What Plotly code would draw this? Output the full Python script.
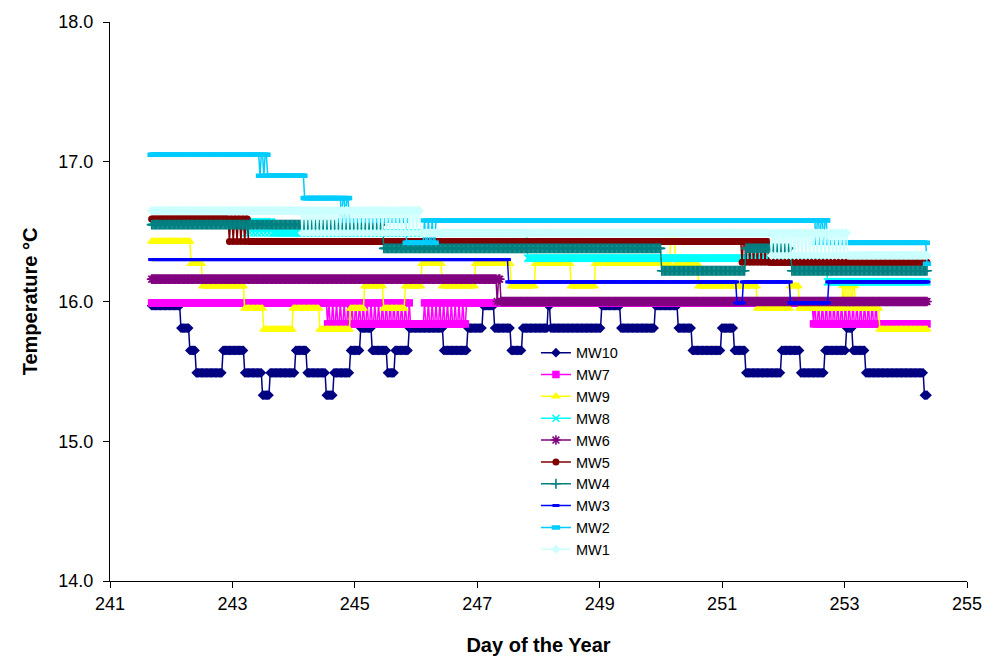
import numpy as np
import plotly.graph_objects as go

# Logger readings: each well is a step record (day of year where the reading
# changes, temperature held from that day on) plus short stretches where the
# sensor toggled between two adjacent levels (start, end, other level).
DAY_START = 241.68
DAY_END = 254.36
SAMPLES_PER_DAY = 48

MW10_T = [241.62, 242.14, 242.29, 242.40, 242.83, 243.19, 243.48, 243.60, 244.02, 244.22,
          244.53, 244.64, 244.92, 245.08, 245.28, 245.52, 245.64, 245.87, 246.45, 246.83,
          247.09, 247.27, 247.55, 247.73, 248.15, 248.20, 249.03, 249.34, 249.90, 250.27,
          250.50, 250.99, 251.20, 251.38, 251.97, 252.27, 252.66, 253.02, 253.13, 253.33,
          254.29]
MW10_V = [15.97, 15.81, 15.65, 15.49, 15.65, 15.49, 15.33, 15.49, 15.65, 15.49,
          15.33, 15.49, 15.65, 15.81, 15.65, 15.49, 15.65, 15.81, 15.65, 15.81,
          15.97, 15.81, 15.65, 15.81, 15.97, 15.81, 15.97, 15.81, 15.97, 15.81,
          15.65, 15.81, 15.65, 15.49, 15.65, 15.49, 15.65, 15.81, 15.65, 15.49,
          15.33]
MW10_FLICKER = []

MW7_T = [241.62, 244.54, 246.83, 252.48]
MW7_V = [15.99, 15.84, 15.99, 15.84]
MW7_FLICKER = [(244.54, 245.93, 15.99), (246.11, 246.83, 15.99), (252.48, 253.54, 15.99)]

MW9_T = [241.62, 242.31, 242.50, 243.20, 243.50, 243.99, 244.43, 244.92, 245.15, 245.47,
         245.82, 246.08, 246.42, 246.96, 247.55, 247.94, 248.53, 248.92, 250.14, 250.24,
         250.60, 251.56, 252.10, 252.25, 252.97, 253.20, 253.57]
MW9_V = [16.43, 16.27, 16.11, 15.95, 15.80, 15.95, 15.80, 15.95, 16.11, 15.95,
         16.11, 16.27, 16.11, 16.27, 16.11, 16.27, 16.11, 16.27, 16.43, 16.27,
         16.11, 15.95, 16.11, 15.95, 16.11, 15.95, 15.80]
MW9_FLICKER = [(252.97, 253.20, 15.95)]

MW8_T = [241.62, 243.66, 247.82, 252.71]
MW8_V = [16.57, 16.49, 16.31, 16.14]
MW8_FLICKER = [(243.20, 243.66, 16.49)]

MW6_T = [241.62, 247.40]
MW6_V = [16.16, 16.00]
MW6_FLICKER = [(247.30, 247.40, 16.00)]

MW5_T = [241.62, 243.25, 251.78]
MW5_V = [16.59, 16.43, 16.28]
MW5_FLICKER = [(242.93, 243.25, 16.43), (251.29, 251.78, 16.28)]

MW4_T = [241.62, 245.46, 250.00, 251.38, 252.12]
MW4_V = [16.55, 16.38, 16.22, 16.38, 16.22]
MW4_FLICKER = []

MW3_T = [241.62, 247.50, 251.24, 251.33, 252.10, 252.74]
MW3_V = [16.30, 16.14, 15.99, 16.14, 15.99, 16.14]
MW3_FLICKER = []

MW2_T = [241.62, 243.56, 244.18, 244.89, 245.83, 246.34, 252.71, 254.34]
MW2_V = [17.05, 16.90, 16.74, 16.58, 16.42, 16.58, 16.42, 16.27]
MW2_FLICKER = [(243.42, 243.56, 16.90), (244.76, 244.89, 16.58),
               (246.11, 246.34, 16.58), (252.51, 252.71, 16.42)]

MW1_T = [241.62, 246.09, 253.05]
MW1_V = [16.65, 16.49, 16.33]
MW1_FLICKER = [(244.10, 246.09, 16.49), (251.78, 253.05, 16.33)]

SERIES = ["MW10", "MW7", "MW9", "MW8", "MW6", "MW5", "MW4", "MW3", "MW2", "MW1"]
COLORS = ["#000080", "#FF00FF", "#FFFF00", "#00FFFF", "#800080",
          "#800000", "#008080", "#0000FF", "#00CCFF", "#CCFFFF"]

DATA = {
    "MW10": (MW10_T, MW10_V, MW10_FLICKER),
    "MW7": (MW7_T, MW7_V, MW7_FLICKER),
    "MW9": (MW9_T, MW9_V, MW9_FLICKER),
    "MW8": (MW8_T, MW8_V, MW8_FLICKER),
    "MW6": (MW6_T, MW6_V, MW6_FLICKER),
    "MW5": (MW5_T, MW5_V, MW5_FLICKER),
    "MW4": (MW4_T, MW4_V, MW4_FLICKER),
    "MW3": (MW3_T, MW3_V, MW3_FLICKER),
    "MW2": (MW2_T, MW2_V, MW2_FLICKER),
    "MW1": (MW1_T, MW1_V, MW1_FLICKER),
}

# marker style per well: symbol, size, outline width
MARKERS = {
    "MW10": ("diamond", 7.5, 0),
    "MW7": ("square", 7.5, 0),
    "MW9": ("triangle-up", 8.5, 0),
    "MW8": ("x-thin-open", 7, 1.6),
    "MW6": ("asterisk-open", 8, 1.6),
    "MW5": ("circle", 7, 0),
    "MW4": ("cross-thin-open", 7, 1.6),
    "MW3": ("line-ew-open", 5, 3),
    "MW2": ("line-ew-open", 6, 4.5),
    "MW1": ("diamond", 7, 0),
}

times = np.arange(DAY_START, DAY_END + 1e-9, 1.0 / SAMPLES_PER_DAY)


def readings(step_t, step_v, flicker):
    t = np.asarray(step_t)
    v = np.asarray(step_v, dtype=float)
    idx = np.clip(np.searchsorted(t, times, side="right") - 1, 0, len(v) - 1)
    vals = v[idx].copy()
    for a, b, other in flicker:
        pos = np.nonzero((times >= a) & (times < b))[0]
        vals[pos[1::3]] = other
    return vals


fig = go.Figure()
for name, color in zip(SERIES, COLORS):
    st, sv, fl = DATA[name]
    sym, size, lw = MARKERS[name]
    fig.add_trace(go.Scatter(
        x=times, y=readings(st, sv, fl), mode="lines+markers", name=name,
        legendgroup=name,
        line=dict(color=color, width=1.5),
        marker=dict(symbol=sym, size=size, color=color,
                    line=dict(color=color, width=lw)),
    ))

FONT = "Liberation Sans, Arial, sans-serif"

fig.update_layout(
    width=997, height=666,
    margin=dict(l=110, r=30, t=19, b=85),
    paper_bgcolor="white", plot_bgcolor="white",
    font=dict(family=FONT, color="black"),
    showlegend=True,
    legend=dict(x=0.497, y=0.437, xanchor="left", yanchor="top",
                bgcolor="rgba(0,0,0,0)", font=dict(size=14.5, family=FONT),
                tracegroupgap=0, itemsizing="trace"),
    xaxis=dict(range=[241, 255], tickvals=[241, 243, 245, 247, 249, 251, 253, 255],
               showline=True, linecolor="black", linewidth=1,
               ticks="outside", ticklen=6, tickcolor="black",
               showgrid=False, zeroline=False, tickfont=dict(size=18),
               title=dict(text="<b>Day of the Year</b>", font=dict(size=20), standoff=25)),
    yaxis=dict(range=[14, 18], tickvals=[14, 15, 16, 17, 18], tickformat=".1f",
               showline=True, linecolor="black", linewidth=1,
               ticks="outside", ticklen=6, tickcolor="black",
               showgrid=False, zeroline=False, tickfont=dict(size=18),
               ticklabelstandoff=6,
               title=dict(text="<b>Temperature °C</b>", font=dict(size=20), standoff=15)),
)

fig.write_html("out.html")
